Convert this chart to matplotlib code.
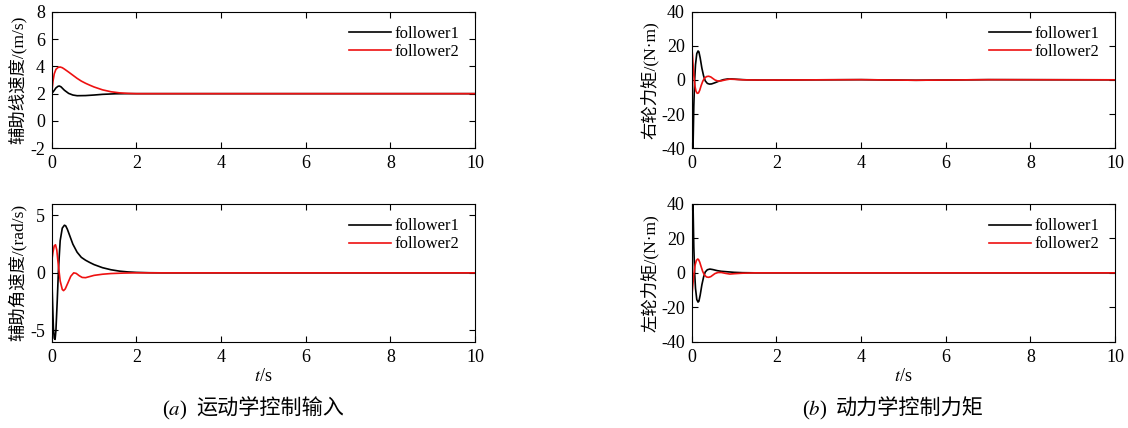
import matplotlib
matplotlib.use("Agg")
import matplotlib.pyplot as plt

plt.rcParams["font.family"] = ["Liberation Serif", "Noto Sans CJK SC"]
plt.rcParams["mathtext.fontset"] = "stix"
plt.rcParams["axes.unicode_minus"] = False

# ── data ────────────────────────────────────────────────────────────────
# auxiliary linear velocity (m/s)
t_v1 = [0, 0.05, 0.1, 0.15, 0.18, 0.22, 0.3, 0.4, 0.5, 0.6, 0.8, 1.0, 1.2, 1.5, 1.8, 2, 10]
v_f1 = [2.0, 2.2, 2.42, 2.54, 2.56, 2.5, 2.25, 2.02, 1.9, 1.85, 1.86, 1.9, 1.95, 1.99, 2.0, 2.0, 2.0]
t_v2 = [0, 0.03, 0.06, 0.1, 0.15, 0.2, 0.25, 0.3, 0.4, 0.5, 0.6, 0.7, 0.8, 0.9, 1.0,
        1.2, 1.4, 1.6, 1.8, 2.0, 10]
v_f2 = [2.0, 2.9, 3.45, 3.78, 3.92, 3.95, 3.9, 3.8, 3.58, 3.35, 3.12, 2.92, 2.76, 2.62, 2.49,
        2.28, 2.14, 2.06, 2.02, 2.0, 2.0]

# auxiliary angular velocity (rad/s)
t_w1 = [0, 0.02, 0.04, 0.06, 0.08, 0.1, 0.13, 0.16, 0.2, 0.25, 0.3, 0.33, 0.37, 0.42, 0.5,
        0.6, 0.7, 0.8, 0.9, 1.0, 1.2, 1.4, 1.6, 1.8, 2.0, 2.3, 2.6, 10]
w_f1 = [0, -2.5, -4.8, -5.7, -5.8, -5.0, -2.5, 0.3, 2.8, 3.9, 4.15, 4.1, 3.8, 3.3, 2.5,
        1.8, 1.35, 1.1, 0.9, 0.72, 0.45, 0.27, 0.15, 0.08, 0.04, 0.01, 0.0, 0.0]
t_w2 = [0, 0.03, 0.06, 0.09, 0.12, 0.15, 0.2, 0.25, 0.28, 0.32, 0.38, 0.45, 0.52, 0.58,
        0.65, 0.72, 0.8, 0.9, 1.0, 1.2, 1.4, 1.7, 2.0, 10]
w_f2 = [1.0, 1.8, 2.35, 2.45, 2.0, 0.9, -0.7, -1.45, -1.55, -1.4, -0.9, -0.3, 0.0, -0.05,
        -0.25, -0.4, -0.42, -0.32, -0.22, -0.12, -0.06, -0.02, 0.0, 0.0]

# right wheel torque (N·m)
t_r1 = [0, 0.01, 0.02, 0.035, 0.05, 0.07, 0.09, 0.12, 0.15, 0.17, 0.2, 0.24, 0.28, 0.32,
        0.37, 0.42, 0.47, 0.55, 0.65, 0.75, 0.85, 0.95, 1.1, 1.3, 1.6, 2.0, 4.0, 5.3, 7.0, 10]
r_f1 = [0, -30, -48, -35, -15, 0, 9, 15.5, 17, 16.5, 13, 7, 2.5, -0.5,
        -2, -2.4, -2.3, -1.6, -0.6, 0.2, 0.6, 0.6, 0.35, 0.1, 0.0, 0.0, 0.2, -0.15, 0.2, 0.1]
t_r2 = [0, 0.02, 0.04, 0.06, 0.08, 0.1, 0.13, 0.16, 0.19, 0.22, 0.26, 0.3, 0.35, 0.4,
        0.45, 0.5, 0.55, 0.62, 0.7, 0.8, 0.9, 1.0, 1.2, 1.5, 2.0, 4.0, 5.3, 7.0, 10]
r_f2 = [20, 14, 6, 0, -4, -6.5, -7.8, -7.6, -6, -3.5, -0.8, 1.0, 2.0, 2.2,
        1.8, 0.9, 0.0, -0.6, -0.5, 0.1, 0.5, 0.4, 0.1, 0.0, 0.0, 0.2, -0.15, 0.2, 0.1]

# left wheel torque (N·m)
t_l1 = [0, 0.01, 0.02, 0.035, 0.05, 0.07, 0.09, 0.12, 0.15, 0.17, 0.2, 0.24, 0.28, 0.32,
        0.37, 0.43, 0.5, 0.6, 0.7, 0.8, 0.9, 1.0, 1.2, 1.5, 2.0, 10]
l_f1 = [0, 30, 48, 35, 15, 0, -9, -15.5, -17, -16.5, -13, -7, -2.5, 0.5,
        1.8, 2.2, 1.9, 1.3, 0.9, 0.7, 0.5, 0.3, 0.1, 0.0, 0.0, 0.0]
t_l2 = [0, 0.02, 0.05, 0.08, 0.11, 0.14, 0.16, 0.19, 0.22, 0.26, 0.3, 0.35, 0.4, 0.45,
        0.5, 0.55, 0.62, 0.7, 0.8, 0.9, 1.0, 1.2, 1.5, 2.0, 10]
l_f2 = [-15, -9, -1, 4.5, 7.2, 8.0, 7.8, 6.2, 3.8, 0.8, -1.2, -2.4, -2.6, -2.2,
        -1.3, -0.4, 0.2, 0.2, -0.3, -0.7, -0.5, -0.2, 0.0, 0.0, 0.0]

labels = ["follower1", "follower2"]
x_ticks = [0, 2, 4, 6, 8, 10]

# ── layout ──────────────────────────────────────────────────────────────
W, H = 1128, 428
fig = plt.figure(figsize=(W / 100, H / 100), dpi=100)
fig.patch.set_facecolor("white")


def px_axes(x0, x1, y0, y1):
    return fig.add_axes([x0 / W, 1 - y1 / H, (x1 - x0) / W, (y1 - y0) / H])


ax_v = px_axes(51.7, 475, 11.7, 148.3)
ax_w = px_axes(51.7, 475, 204, 341.7)
ax_r = px_axes(691.7, 1115, 11.7, 148.3)
ax_l = px_axes(691.7, 1115, 204, 341.7)

panels = [
    (ax_v, (t_v1, v_f1), (t_v2, v_f2), (-2, 8), [-2, 0, 2, 4, 6, 8], "辅助线速度/(m/s)", -0.058),
    (ax_w, (t_w1, w_f1), (t_w2, w_f2), (-6, 6), [-5, 0, 5], "辅助角速度/(rad/s)", -0.058),
    (ax_r, (t_r1, r_f1), (t_r2, r_f2), (-40, 40), [-40, -20, 0, 20, 40], "右轮力矩/(N·m)", -0.077),
    (ax_l, (t_l1, l_f1), (t_l2, l_f2), (-40, 40), [-40, -20, 0, 20, 40], "左轮力矩/(N·m)", -0.077),
]

for ax, s1, s2, ylim, yt, ylab, ylx in panels:
    ax.plot(*s1, color="black", lw=1.2, label=labels[0])
    ax.plot(*s2, color="#ee1111", lw=1.2, label=labels[1])
    ax.set_xlim(0, 10)
    ax.set_ylim(*ylim)
    ax.set_xticks(x_ticks)
    ax.set_yticks(yt)
    ax.tick_params(direction="in", top=True, right=True, length=4, width=0.8,
                   labelsize=13, pad=5)
    for sp in ax.spines.values():
        sp.set_linewidth(0.8)
    ax.set_ylabel(ylab, fontsize=12.5)
    ax.yaxis.set_label_coords(ylx, 0.5)
    ax.legend(loc="upper right", frameon=False, fontsize=12, handlelength=2.5,
              handletextpad=0.2, labelspacing=0.12, borderaxespad=0.3,
              bbox_to_anchor=(0.99, 0.98))

# x labels
for ax in (ax_w, ax_l):
    ax.set_xlabel("$t$/s", fontsize=13, labelpad=2)

# captions
fig.text(187 / W, 1 - 410 / H, "($a$)", fontsize=15, ha="right", va="center")
fig.text(196 / W, 1 - 410 / H, "运动学控制输入", fontsize=15.2, ha="left", va="center")
fig.text(827 / W, 1 - 410 / H, "($b$)", fontsize=15, ha="right", va="center")
fig.text(836 / W, 1 - 410 / H, "动力学控制力矩", fontsize=15.2, ha="left", va="center")

fig.savefig("out.png", dpi=100, facecolor="white")
